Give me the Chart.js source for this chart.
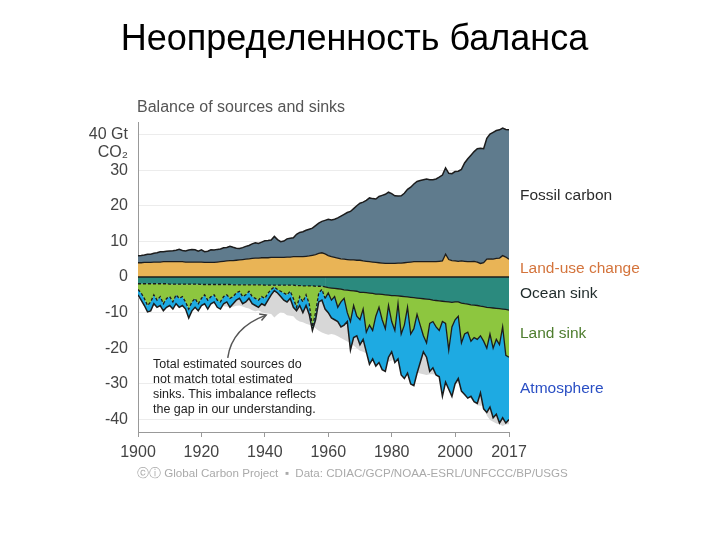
<!DOCTYPE html>
<html>
<head>
<meta charset="utf-8">
<script src="https://cdn.jsdelivr.net/npm/chart.js@4.4.1/dist/chart.umd.min.js"></script>
<style>
  html, body { margin: 0; padding: 0; background: #fff; }
  #wrap { position: relative; width: 720px; height: 540px; overflow: hidden;
          font-family: "Liberation Sans", Arial, sans-serif; }
  #wrap canvas { position: absolute; left: 0; top: 0; }
  .t { position: absolute; white-space: nowrap; }
  #title { left: 0; width: 709px; text-align: center; top: 20px; font-size: 36px; line-height: 36px; color: #000; }
  #sub { left: 137px; top: 99px; font-size: 16px; line-height: 16px; color: #555; }
  #note { left: 153px; top: 357px; font-size: 12.5px; line-height: 15px; color: #222; }
  #foot { left: 137px; top: 467px; font-size: 11.6px; line-height: 12px; color: #aaa; }
</style>
</head>
<body>
<div id="wrap">
  <canvas id="c" width="720" height="540"></canvas>
  <div class="t" id="title">Неопределенность баланса</div>
  <div class="t" id="sub">Balance of sources and sinks</div>
  <div class="t" id="note">Total estimated sources do<br>not match total estimated<br>sinks. This imbalance reflects<br>the gap in our understanding.</div>
  <div class="t" id="foot">ⓒⓘ Global Carbon Project &nbsp;▪&nbsp; Data: CDIAC/GCP/NOAA-ESRL/UNFCCC/BP/USGS</div>
</div>
<script>
// ---------- DATA (Gt CO2 per year, 1900..2017) ----------
const YEARS = Array.from({ length: 118 }, (_, i) => 1900 + i);

const FOSSIL = [
  1.95, 2.05, 2.10, 2.30, 2.30, 2.45, 2.60, 2.90, 2.80, 2.90,
  3.00, 3.05, 3.20, 3.45, 3.15, 3.10, 3.35, 3.50, 3.45, 3.05,
  3.40, 3.00, 3.15, 3.55, 3.50, 3.55, 3.55, 3.80, 3.80, 4.05,
  3.75, 3.40, 3.20, 3.35, 3.60, 3.75, 4.10, 4.30, 4.10, 4.40,
  4.75, 4.85, 4.90, 5.90, 5.00, 4.40, 4.60, 5.10, 5.30, 5.30,
  6.30, 6.80, 7.00, 7.30, 7.50, 7.60, 8.10, 8.50, 8.80, 9.40,
  10.2, 10.3, 10.7, 11.3, 12.0, 12.6, 13.2, 13.6, 14.4, 15.3,
  16.0, 16.5, 17.1, 17.9, 17.8, 17.8, 18.6, 19.0, 19.4, 20.0,
  19.6, 19.0, 18.8, 18.9, 19.5, 20.5, 21.0, 21.8, 22.5, 22.8,
  23.0, 23.2, 23.0, 23.0, 23.2, 23.6, 24.1, 24.2, 24.2, 24.4,
  25.1, 25.3, 25.7, 27.6, 28.9, 29.9, 30.8, 31.8, 32.3, 32.0,
  33.9, 35.0, 35.6, 35.9, 36.0, 35.8, 35.8, 36.3
];

const LAND_USE = [
  4.0, 4.0, 4.1, 4.1, 4.1, 4.2, 4.2, 4.2, 4.3, 4.3,
  4.3, 4.3, 4.3, 4.3, 4.3, 4.2, 4.2, 4.2, 4.2, 4.2,
  4.2, 4.1, 4.1, 4.1, 4.1, 4.2, 4.3, 4.4, 4.5, 4.6,
  4.6, 4.7, 4.8, 4.9, 5.0, 5.1, 5.2, 5.3, 5.3, 5.4,
  5.4, 5.4, 5.5, 5.5, 5.5, 5.5, 5.5, 5.6, 5.6, 5.7,
  5.7, 5.7, 5.7, 5.8, 5.9, 6.1, 6.3, 6.6, 6.8, 6.5,
  6.0, 5.7, 5.5, 5.3, 5.1, 5.0, 4.9, 4.8, 4.8, 4.7,
  4.7, 4.5, 4.4, 4.3, 4.2, 4.1, 4.0, 3.9, 3.8, 3.8,
  3.8, 3.8, 3.9, 3.9, 4.0, 4.1, 4.2, 4.3, 4.3, 4.3,
  4.3, 4.3, 4.3, 4.3, 4.3, 4.4, 4.5, 6.4, 4.9, 4.6,
  4.5, 4.4, 4.5, 4.4, 4.3, 4.3, 4.4, 4.2, 3.8, 4.0,
  5.0, 5.1, 5.0, 5.2, 5.3, 6.0, 5.6, 5.0
];

const OCEAN = [
  1.9, 1.9, 1.9, 1.9, 1.9, 1.9, 1.9, 1.9, 1.9, 1.9,
  2.0, 2.0, 2.0, 2.0, 2.0, 2.0, 2.0, 2.0, 2.0, 2.0,
  2.1, 2.1, 2.1, 2.1, 2.1, 2.1, 2.1, 2.1, 2.1, 2.1,
  2.2, 2.2, 2.2, 2.2, 2.2, 2.2, 2.2, 2.2, 2.2, 2.2,
  2.3, 2.3, 2.3, 2.3, 2.3, 2.3, 2.3, 2.3, 2.3, 2.3,
  2.4, 2.4, 2.5, 2.5, 2.5, 2.5, 2.6, 2.6, 2.6, 2.8,
  3.0, 3.1, 3.2, 3.3, 3.4, 3.6, 3.7, 3.8, 3.9, 4.0,
  4.3, 4.3, 4.4, 4.5, 4.6, 4.8, 4.8, 4.9, 5.0, 5.1,
  5.2, 5.2, 5.3, 5.4, 5.5, 5.6, 5.7, 5.8, 5.9, 6.0,
  6.1, 6.2, 6.3, 6.5, 6.6, 6.7, 6.8, 6.9, 7.0, 7.1,
  7.0, 7.0, 7.3, 7.5, 7.6, 7.8, 7.9, 8.0, 8.2, 8.3,
  8.5, 8.6, 8.7, 8.8, 8.9, 9.0, 9.1, 9.3
];

const LAND_SINK = [
  1.6, 2.6, 4.1, 6.1, 5.1, 3.1, 4.6, 3.6, 5.6, 4.1,
  3.5, 5.0, 3.0, 4.0, 3.5, 5.0, 7.0, 5.0, 4.0, 5.5,
  3.9, 2.9, 4.4, 3.4, 2.9, 4.4, 4.9, 3.4, 2.9, 3.9,
  3.3, 2.3, 1.8, 3.3, 2.8, 1.8, 3.3, 3.8, 4.3, 3.3,
  3.7, 2.2, 1.2, 0.5, 1.2, 1.7, 2.2, 2.7, 1.7, 3.7,
  6.1, 3.1, 4.5, 2.5, 5.0, 11.5, 7.4, 1.9, 0.9, 3.2,
  1.5, 3.4, 2.3, 5.2, 3.6, 2.4, 6.3, 8.7, 4.1, 7.0,
  7.7, 4.7, 11.1, 9.0, 10.4, 6.2, 3.7, 7.1, 9.5, 2.9,
  7.3, 9.8, 2.2, 10.6, 8.0, 2.9, 10.3, 8.7, 4.6, 7.5,
  10.4, 12.3, 6.7, 6.0, 7.4, 8.3, 5.7, 6.1, 13.5, 6.9,
  5.0, 4.0, 11.2, 8.5, 7.9, 10.2, 9.1, 9.5, 8.3, 9.7,
  11.5, 7.4, 11.3, 8.7, 10.1, 5.0, 12.9, 13.2
];

const ATMOSPHERE = [
  1.5, 2.0, 2.0, 1.8, 2.5, 2.5, 2.0, 2.5, 2.0, 2.5,
  2.5, 2.0, 2.5, 2.5, 2.5, 2.0, 2.5, 2.5, 2.5, 2.0,
  2.0, 2.5, 2.5, 2.0, 2.0, 2.0, 2.0, 2.0, 2.0, 2.5,
  2.0, 2.0, 2.0, 2.0, 2.0, 2.0, 2.0, 2.0, 2.0, 2.0,
  2.0, 2.0, 1.5, 1.0, 1.0, 1.5, 2.0, 2.0, 2.0, 2.5,
  1.0, 2.5, 3.0, 3.0, 3.0, 1.0, 2.0, 2.5, 3.0, 3.0,
  5.5, 5.0, 6.5, 4.0, 7.0, 7.5, 2.5, 8.0, 9.0, 5.5,
  7.0, 8.5, 5.5, 11.0, 8.0, 14.0, 15.5, 14.0, 12.0, 14.5,
  8.5, 9.0, 15.5, 11.5, 15.0, 18.5, 14.0, 16.0, 16.5, 10.5,
  4.5, 4.0, 13.5, 13.0, 13.5, 13.0, 21.0, 16.5, 11.0, 19.5,
  18.0, 17.5, 13.5, 17.0, 18.5, 15.5, 18.0, 18.0, 16.0, 19.0,
  18.0, 20.5, 19.5, 21.0, 22.0, 25.5, 19.0, 17.5
];

const X_TICKS = [1900, 1920, 1940, 1960, 1980, 2000, 2017];
const Y_TICKS = [-40, -30, -20, -10, 0, 10, 20, 30, 40];

// right-hand labels and where they sit on the value axis
const SIDE_LABELS = ["Fossil carbon", "Land-use change", "Ocean sink", "Land sink", "Atmosphere"];
const SIDE_COLORS = ["#2b2b2b", "#d4743c", "#1f2b2b", "#4e7d2e", "#2a4fc4"];
const SIDE_AT = [22.9, 2.4, -4.8, -16.0, -31.4];

// sinks last year with the dashed (reconstructed) boundary
const DASH_UNTIL = 1959;

// ---------- STYLE ----------
const FONT = "'Liberation Sans', Arial, sans-serif";
const LINE = "#1c1c1c";
const neg = (arr) => arr.map((v) => -v);
const dashEarly = { borderDash: (c) => (c.p1.parsed.x <= DASH_UNTIL ? [3, 2] : undefined) };

const overlay = {
  id: "overlay",
  afterDatasetsDraw(chart) {
    const { ctx, chartArea: a, scales: { x, y } } = chart;
    ctx.save();
    // zero line between sources and sinks
    const y0 = y.getPixelForValue(0);
    ctx.strokeStyle = LINE;
    ctx.lineWidth = 1.6;
    ctx.beginPath();
    ctx.moveTo(a.left, y0);
    ctx.lineTo(a.right, y0);
    ctx.stroke();

    // labels to the right of the plot
    ctx.font = "15.5px " + FONT;
    ctx.textBaseline = "middle";
    ctx.textAlign = "left";
    SIDE_LABELS.forEach((s, i) => {
      ctx.fillStyle = SIDE_COLORS[i];
      ctx.fillText(s, a.right + 11, y.getPixelForValue(SIDE_AT[i]));
    });

    // unit under the 40 tick
    ctx.font = "16px " + FONT;
    ctx.fillStyle = "#444";
    ctx.textAlign = "right";
    ctx.fillText("CO₂", a.left - 10, y.getPixelForValue(40) + 18);

    // arrow to the imbalance area
    const p0 = [x.getPixelForValue(1928.3), y.getPixelForValue(-22.7)];
    const pc = [x.getPixelForValue(1929.6), y.getPixelForValue(-14.2)];
    const p1 = [x.getPixelForValue(1940.4), y.getPixelForValue(-10.7)];
    ctx.strokeStyle = "#555";
    ctx.lineWidth = 1.5;
    ctx.beginPath();
    ctx.moveTo(p0[0], p0[1]);
    ctx.quadraticCurveTo(pc[0], pc[1], p1[0], p1[1]);
    ctx.stroke();
    const ang = Math.atan2(p1[1] - pc[1], p1[0] - pc[0]);
    ctx.beginPath();
    ctx.moveTo(p1[0] - 7 * Math.cos(ang - 0.5), p1[1] - 7 * Math.sin(ang - 0.5));
    ctx.lineTo(p1[0], p1[1]);
    ctx.lineTo(p1[0] - 7 * Math.cos(ang + 0.5), p1[1] - 7 * Math.sin(ang + 0.5));
    ctx.stroke();
    ctx.restore();
  }
};

const area = (label, data, stack, fill, color, extra) => Object.assign({
  label, data, stack, fill,
  backgroundColor: color,
  borderColor: LINE,
  borderWidth: 1.3,
  pointRadius: 0,
  tension: 0,
  order: 0
}, extra || {});

new Chart(document.getElementById("c"), {
  type: "line",
  data: {
    labels: YEARS,
    datasets: [
      area("Land-use change", LAND_USE, "src", "origin", "#e9b456"),
      area("Fossil carbon", FOSSIL, "src", "-1", "#5f7b8d", { borderWidth: 1.5 }),
      area("Ocean sink", neg(OCEAN), "sink", "origin", "#2b8a7e", { segment: dashEarly }),
      area("Land sink", neg(LAND_SINK), "sink", "-1", "#8dc63f", { segment: dashEarly }),
      area("Atmosphere", neg(ATMOSPHERE), "sink", "-1", "#1eaae2", { borderWidth: 1.5 }),
      area("Imbalance", neg(FOSSIL.map((v, i) => v + LAND_USE[i])), "gap", "origin", "#d7d7d7",
           { borderWidth: 0, order: 1 })
    ]
  },
  options: {
    responsive: false,
    animation: false,
    layout: { padding: { top: 122, right: 211, bottom: 68, left: 0 } },
    plugins: { legend: { display: false }, tooltip: { enabled: false } },
    scales: {
      x: {
        type: "linear",
        min: 1900,
        max: 2017,
        afterBuildTicks: (s) => { s.ticks = X_TICKS.map((v) => ({ value: v })); },
        afterFit: (s) => { s.height = 40; },
        grid: { drawOnChartArea: false, drawTicks: true, tickLength: 5, color: "#999" },
        border: { color: "#999", width: 1 },
        ticks: {
          autoSkip: false, maxRotation: 0, padding: 6,
          color: "#444", font: { family: FONT, size: 16 },
          callback: (v) => String(v)
        }
      },
      y: {
        stacked: true,
        min: -43.5,
        max: 43.5,
        afterBuildTicks: (s) => { s.ticks = Y_TICKS.map((v) => ({ value: v })); },
        afterFit: (s) => { s.width = 138; },
        grid: { color: "#ececec", drawTicks: false },
        border: { color: "#999", width: 1 },
        ticks: {
          padding: 10,
          color: "#444", font: { family: FONT, size: 16 },
          callback: (v) => (v === 40 ? "40 Gt" : String(v))
        }
      }
    }
  },
  plugins: [overlay]
});
</script>
</body>
</html>
